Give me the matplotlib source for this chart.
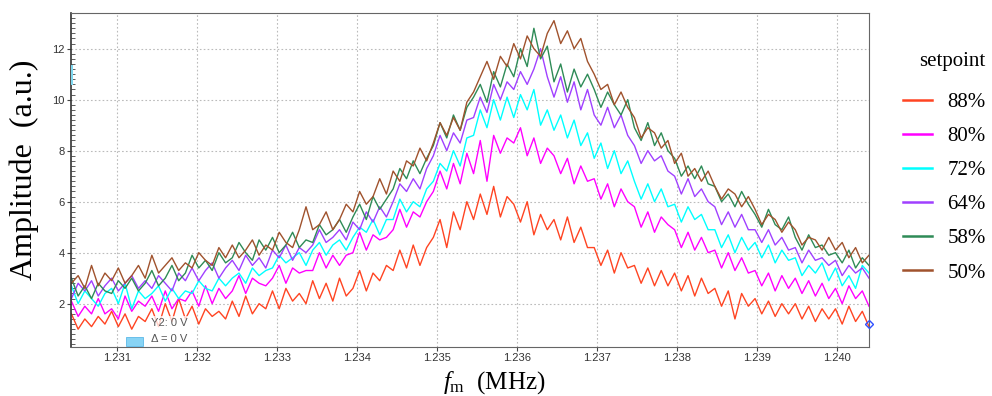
"""Amplitude spectra vs. modulation frequency for several setpoints."""

import numpy as np
import matplotlib

matplotlib.use("Agg")
import matplotlib.pyplot as plt
from matplotlib.patches import Rectangle
from matplotlib.ticker import MultipleLocator, FormatStrFormatter

plt.rcParams["mathtext.fontset"] = "custom"
plt.rcParams["mathtext.rm"] = "Liberation Serif"
plt.rcParams["mathtext.it"] = "Liberation Serif:italic"

# frequency axis (MHz), 120 samples across the scan
freq = np.linspace(1.23043, 1.24040, 120)

setpoints = ["88%", "80%", "72%", "64%", "58%", "50%"]
colors = ["#FF4422", "#FF00FF", "#00FFFF", "#A040FF", "#2E8B57", "#A0522D"]

amp_88 = [
    1.6, 1.0, 1.4, 1.1, 1.5, 1.2,  1.7, 1.1, 1.6, 1.0, 1.5, 1.3,
    1.8, 1.1, 2.0, 1.3, 2.2, 1.4,  1.9, 1.2, 1.8, 1.5, 1.7, 1.4,
    2.1, 1.5, 2.3, 1.6, 2.0, 1.8,  2.5, 1.8, 2.6, 2.1, 2.4, 2.0,
    2.9, 2.2, 2.8, 2.1, 3.0, 2.3,  2.6, 3.3, 2.5, 3.2, 2.9, 3.5,
    3.3, 4.1, 3.4, 4.3, 3.5, 4.2,  4.6, 5.3, 4.2, 5.6, 4.9, 6.0,
    5.3, 6.3, 5.5, 6.6, 5.4, 6.2,  5.9, 5.2, 6.0, 4.7, 5.5, 4.9,
    5.3, 4.5, 5.4, 4.4, 5.0, 4.2,  4.2, 3.5, 4.1, 3.2, 4.0, 3.4,
    3.5, 2.8, 3.4, 2.7, 3.3, 2.7,  3.2, 2.5, 3.1, 2.3, 3.0, 2.4,
    2.6, 1.9, 2.5, 1.4, 2.4, 1.9,  2.2, 1.6, 2.1, 1.5, 2.0, 1.6,
    2.0, 1.4, 1.9, 1.3, 1.8, 1.4,  1.8, 1.2, 1.9, 1.3, 1.7, 1.1,
]
amp_80 = [
    2.1, 1.5, 1.9, 1.6, 2.2, 1.6,  1.8, 1.4, 2.3, 1.7, 2.1, 1.9,
    2.3, 1.7, 2.5, 1.8, 2.2, 2.1,  2.5, 1.9, 2.7, 2.0, 2.6, 2.2,
    2.5, 3.1, 2.4, 3.0, 2.8, 2.7,  3.0, 3.5, 2.8, 3.4, 3.2, 3.3,
    3.3, 4.0, 3.4, 3.9, 3.5, 3.9,  4.0, 4.8, 4.1, 4.7, 4.5, 4.6,
    4.9, 5.7, 5.0, 5.6, 5.4, 6.0,  6.4, 7.2, 6.5, 7.5, 6.7, 7.9,
    7.1, 8.4, 6.8, 8.6, 7.9, 8.5,  8.3, 8.9, 7.8, 8.5, 7.5, 8.1,
    7.8, 7.1, 7.7, 6.7, 7.4, 6.8,  6.9, 6.1, 6.7, 5.8, 6.5, 6.0,
    5.8, 5.0, 5.6, 4.8, 5.4, 5.1,  4.9, 4.2, 4.8, 4.1, 4.6, 4.0,
    4.1, 3.4, 4.0, 3.3, 3.8, 3.2,  3.3, 2.7, 3.2, 2.5, 3.1, 2.6,
    3.0, 2.4, 2.9, 2.3, 2.8, 2.2,  2.6, 2.0, 2.7, 2.2, 2.5, 1.9,
]
amp_72 = [
    2.7, 2.0, 2.5, 2.2, 1.9, 2.4,  2.6, 2.0, 2.8, 1.8, 2.5, 2.2,
    2.4, 2.7, 2.1, 2.6, 2.2, 2.5,  2.4, 2.9, 2.6, 2.5, 3.0, 2.7,
    3.0, 3.2, 2.8, 3.4, 3.1, 3.3,  3.4, 3.9, 3.6, 3.8, 4.0, 3.5,
    4.1, 4.4, 3.9, 4.3, 4.5, 4.1,  4.6, 5.0, 4.8, 5.3, 4.7, 5.3,
    5.3, 6.1, 5.6, 6.0, 5.8, 6.5,  6.8, 7.5, 7.2, 8.0, 7.4, 8.5,
    8.6, 9.6, 8.9, 10.0, 9.2, 10.1,  9.3, 10.2, 9.6, 10.4, 9.0, 9.6,
    8.8, 9.4, 8.5, 9.2, 8.2, 8.7,  7.7, 8.3, 7.3, 8.0, 7.1, 7.6,
    6.8, 6.1, 6.7, 6.0, 6.5, 5.8,  5.9, 5.2, 5.8, 5.3, 5.5, 4.9,
    4.9, 4.2, 4.7, 4.0, 4.6, 4.1,  4.4, 3.8, 4.3, 3.6, 4.1, 3.7,
    3.8, 3.1, 3.5, 3.2, 3.6, 2.9,  3.4, 2.7, 3.1, 2.6, 3.5, 3.2,
]
amp_64 = [
    2.2, 2.8, 2.5, 2.9, 2.3, 2.7,  3.0, 2.5, 2.8, 3.1, 2.6, 2.9,
    2.6, 3.1, 2.8, 2.5, 3.2, 2.9,  3.4, 2.9, 3.3, 3.6, 3.0, 3.4,
    3.7, 3.3, 3.9, 3.5, 3.8, 3.4,  4.1, 3.8, 4.3, 3.7, 4.2, 4.0,
    4.3, 4.9, 4.4, 4.6, 4.9, 4.5,  5.2, 4.9, 5.6, 5.2, 5.8, 5.4,
    6.0, 6.7, 6.4, 6.9, 6.5, 7.3,  7.8, 8.6, 8.0, 8.7, 8.3, 9.2,
    9.3, 10.1, 9.5, 10.6, 10.0, 10.7,  10.4, 11.1, 10.6, 11.2, 12.0, 10.9,
    10.1, 10.9, 9.9, 10.7, 9.6, 10.4,  9.4, 9.0, 9.7, 8.9, 9.4, 8.6,
    8.2, 7.5, 8.0, 7.6, 7.8, 7.2,  7.0, 6.3, 6.9, 6.2, 6.5, 6.0,
    5.8, 5.1, 5.6, 5.0, 5.5, 4.9,  4.9, 4.4, 4.9, 4.3, 4.6, 4.1,
    4.2, 3.6, 4.1, 3.7, 3.8, 3.5,  3.7, 3.1, 3.5, 3.2, 3.4, 3.0,
]
amp_58 = [
    3.0, 2.3, 2.7, 2.2, 2.8, 2.5,  2.4, 2.9, 2.6, 3.0, 2.5, 2.8,
    3.3, 2.7, 3.0, 3.5, 2.9, 3.2,  3.9, 3.4, 3.7, 3.3, 4.0, 3.6,
    3.8, 4.4, 4.0, 3.7, 4.5, 4.1,  4.6, 4.0, 4.3, 4.8, 4.2, 4.5,
    4.4, 5.1, 4.7, 4.9, 5.3, 4.8,  5.4, 5.9, 5.3, 6.2, 5.7, 6.1,
    6.5, 7.3, 6.9, 7.6, 7.1, 7.7,  8.2, 9.1, 8.5, 9.4, 8.8, 9.7,
    10.1, 10.6, 9.9, 11.1, 10.5, 11.4,  10.9, 12.0, 11.3, 12.8, 11.6, 12.1,
    10.7, 11.4, 10.3, 11.2, 10.5, 11.0,  10.4, 9.7, 10.3, 9.8, 9.4, 10.0,
    8.9, 8.4, 9.1, 8.2, 8.7, 8.0,  7.7, 7.0, 7.4, 6.9, 7.4, 6.7,
    6.6, 6.0, 6.3, 5.8, 6.4, 5.9,  5.5, 5.0, 5.7, 5.1, 4.9, 5.4,
    4.6, 4.1, 4.7, 4.2, 4.3, 3.9,  4.0, 3.6, 4.1, 3.4, 3.8, 3.5,
]
amp_50 = [
    2.8, 3.1, 2.6, 3.5, 2.7, 3.2,  2.9, 3.4, 2.8, 3.1, 3.5, 3.0,
    3.9, 3.2, 3.5, 3.8, 3.3, 3.6,  3.4, 4.0, 3.7, 3.5, 4.2, 3.8,
    4.3, 3.8, 4.1, 4.5, 3.9, 4.3,  4.1, 4.8, 4.4, 4.2, 4.9, 5.8,
    4.9, 5.1, 5.6, 4.9, 5.3, 5.9,  5.6, 6.4, 5.9, 6.2, 6.9, 6.3,
    7.2, 6.8, 7.6, 7.4, 8.1, 7.6,  8.3, 9.1, 8.6, 9.3, 8.8, 9.9,
    10.3, 10.9, 11.5, 10.8, 11.7, 11.3,  12.2, 11.6, 12.5, 12.0, 11.7, 12.6,
    13.1, 12.2, 12.7, 12.0, 12.4, 11.5,  11.0, 10.4, 10.6, 9.8, 10.3, 9.7,
    9.3, 8.5, 8.9, 8.7, 8.1, 8.4,  7.5, 7.9, 7.0, 7.3, 6.8, 7.2,
    6.6, 6.1, 6.5, 6.3, 5.8, 6.2,  5.7, 5.1, 5.5, 5.3, 4.8, 5.2,
    4.9, 4.3, 4.6, 4.5, 4.1, 4.6,  4.1, 4.4, 3.8, 4.2, 3.6, 3.9,
]
amplitudes = [amp_88, amp_80, amp_72, amp_64, amp_58, amp_50]

fig = plt.figure(figsize=(9.92, 3.96), dpi=100)
ax = fig.add_axes([0.0716, 0.1237, 0.8044, 0.8435])

for label, color, amp in zip(setpoints, colors, amplitudes):
    ax.plot(freq, amp, color=color, lw=1.0, label=label)

ax.set_xlim(1.230425, 1.2404)
ax.set_ylim(0.3, 13.4)
ax.xaxis.set_major_locator(MultipleLocator(0.001))
ax.xaxis.set_major_formatter(FormatStrFormatter("%.3f"))
ax.set_yticks([2, 4, 6, 8, 10, 12])
ax.yaxis.set_minor_locator(MultipleLocator(0.2))
for lbl in ax.get_xticklabels() + ax.get_yticklabels():
    lbl.set_family("Liberation Sans")
ax.tick_params(axis="both", which="major", labelsize=8, labelcolor="#333333",
               color="#444444", length=3, width=0.8, pad=1.5)
ax.tick_params(axis="y", which="minor", direction="in", length=3,
               width=0.6, color="#444444")
ax.grid(True, which="major", ls=(0, (1.5, 2)), color="#bbbbbb", lw=0.8)
for side in ["top", "right", "bottom"]:
    ax.spines[side].set_color("#666666")
ax.spines["left"].set_color("#333333")
ax.spines["left"].set_linewidth(1.2)

ax.set_ylabel("Amplitude  (a.u.)", family="Liberation Serif", fontsize=23,
              va="center")
ax.yaxis.set_label_coords(-0.059, 0.53)
ax.set_xlabel(r"$f_{\mathrm{m}}$  (MHz)", family="Liberation Serif",
              fontsize=18, va="center")
ax.xaxis.set_label_coords(0.531, -0.105)

# leftover cursor readout from the acquisition software
ax.text(0.100, 0.072, "Y2: 0 V", transform=ax.transAxes, fontsize=8,
        color="#555555", va="center", family="Liberation Sans",
        bbox=dict(facecolor="white", edgecolor="none", alpha=0.75, pad=1.5))
ax.text(0.100, 0.024, "Δ = 0 V", transform=ax.transAxes, fontsize=8,
        color="#555555", va="center", family="Liberation Sans",
        bbox=dict(facecolor="white", edgecolor="none", alpha=0.75, pad=1.5))
ax.add_patch(Rectangle((0.069, 0.004), 0.021, 0.026, transform=ax.transAxes,
                       facecolor="#88D4F5", edgecolor="#5BB8E8", lw=0.6,
                       clip_on=False, zorder=5))
ax.add_patch(Rectangle((0.0, 0.785), 0.003, 0.06, transform=ax.transAxes,
                       facecolor="#7FD8F0", edgecolor="none", clip_on=False,
                       zorder=5))
ax.plot([1.0], [1.2], marker="D", ms=4, mfc="none", mec="#3050FF",
        transform=ax.get_yaxis_transform(), clip_on=False, zorder=6)

leg = fig.legend(loc="upper left", bbox_to_anchor=(0.891, 0.915),
                 frameon=False, title="setpoint",
                 prop={"family": "Liberation Serif", "size": 15},
                 handlelength=1.4, handletextpad=0.75, labelspacing=0.7)
leg.get_title().set_fontfamily("Liberation Serif")
leg.get_title().set_fontsize(15)
leg._legend_box.sep = 15
leg._legend_box.align = "right"
for line in leg.get_lines():
    line.set_linewidth(1.8)

fig.savefig("out.png", dpi=100)
